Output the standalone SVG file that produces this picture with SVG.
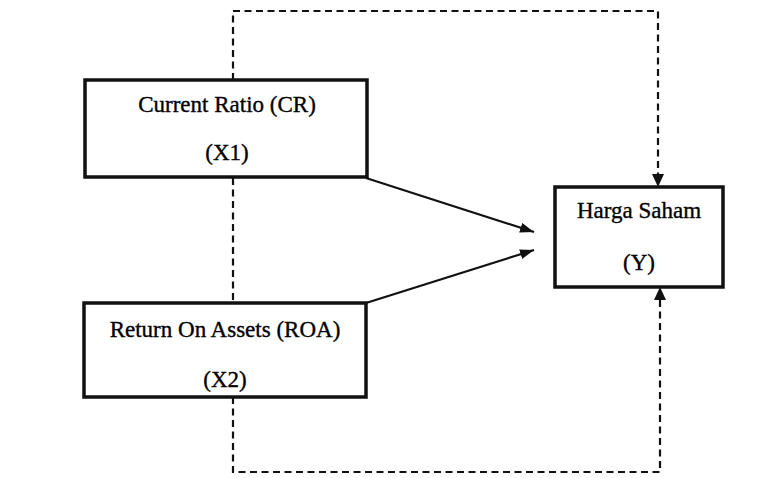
<svg xmlns="http://www.w3.org/2000/svg" width="768" height="478" viewBox="0 0 768 478">
<style>
.box{fill:#fff;stroke:#111;stroke-width:3.5}
text{font-family:'Liberation Serif','DejaVu Serif',serif;font-size:23px;fill:#000;stroke:#000;stroke-width:0.35;text-anchor:middle}
.dash{fill:none;stroke:#111;stroke-width:2.2;stroke-dasharray:7 4.5}
.solid{fill:none;stroke:#111;stroke-width:2.2}
</style>
<defs>
<marker id="ah" viewBox="0 0 14 10" refX="14" refY="5" markerWidth="14" markerHeight="10" markerUnits="userSpaceOnUse" orient="auto">
<path d="M0,0 L14,5 L0,10 Z" fill="#111"/>
</marker>
</defs>
<rect width="768" height="478" fill="#fff"/>
<g id="connectors">
<path class="dash" d="M233,80 L233,11 L658,11 L658,176"/>
<path d="M652,174 L664,174 L658,187 Z" fill="#111"/>
<path class="dash" d="M233,178 L233,303"/>
<path class="dash" d="M233,397 L233,472 L660,472 L660,298"/>
<path d="M654,300 L666,300 L660,287 Z" fill="#111"/>
<path class="solid" d="M366,178 L534,232" marker-end="url(#ah)"/>
<path class="solid" d="M366,303 L534,250" marker-end="url(#ah)"/>
</g>
<g id="node-x1">
<rect class="box" x="85" y="80" width="282" height="97"/>
<text x="227" y="112">Current Ratio (CR)</text>
<text x="227" y="160">(X1)</text>
</g>
<g id="node-x2">
<rect class="box" x="84" y="303" width="282" height="94"/>
<text x="225" y="337">Return On Assets (ROA)</text>
<text x="225" y="387">(X2)</text>
</g>
<g id="node-y">
<rect class="box" x="555" y="187" width="168" height="100"/>
<text x="639" y="218">Harga Saham</text>
<text x="639" y="270">(Y)</text>
</g>
</svg>
